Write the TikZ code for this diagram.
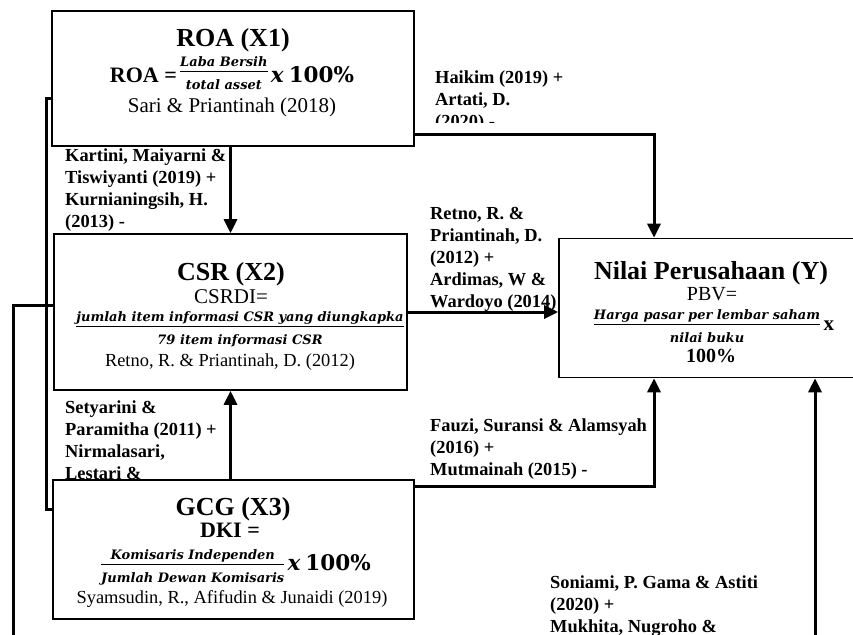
\documentclass[tikz,border=0pt]{standalone}
\usepackage{amsmath}
\usepackage{fontspec}
\setmainfont{Liberation Serif}
\newfontfamily\cambria{DejaVu Serif}
\usetikzlibrary{arrows.meta,positioning,calc}

\newcommand{\fr}{\fontsize{13}{15}\selectfont\cambria\bfseries\itshape}
\newcommand{\frc}[2]{\ensuremath{\vcenter{\offinterlineskip
  \halign{\hfil##\hfil\cr
    \fr\rule[-4.85pt]{0pt}{20.35pt}#1\cr
    \noalign{\hrule height 1.3pt}
    \fr\rule[-3pt]{0pt}{20.35pt}#2\cr}}}}
\newcommand{\ttl}{\fontsize{26}{28}\selectfont\bfseries}
\newcommand{\kali}{{\fontsize{21.5}{24}\selectfont\cambria\bfseries\itshape x} {\fontsize{21.5}{24}\selectfont\cambria\bfseries 100\%}}

\tikzset{
  varbox/.style={draw, line width=1.6pt, fill=white, inner sep=0pt},
  txt/.style={anchor=base, inner sep=0pt, font=\fontsize{18.4}{22}\selectfont},
  arr/.style={line width=3pt, -{Triangle[width=13pt,length=14pt]}},
  conn/.style={line width=3pt},
  refnote/.style={font=\fontsize{18.4}{22}\selectfont\bfseries, align=left,
    anchor=north west, inner sep=0pt}
}

\begin{document}
\begin{tikzpicture}[x=1pt,y=-1pt]
    \useasboundingbox (0,0) rectangle (853,634);

    % labels on the paths
    \node[refnote] (kartini) at (65,149) {Kartini, Maiyarni \&\\Tiswiyanti (2019) +\\Kurnianingsih, H.\\(2013) -};
    \node[refnote] (setyarini) at (65,401) {Setyarini \&\\Paramitha (2011) +\\Nirmalasari,\\Lestari \&};
    \node[refnote] (retno) at (430,207) {Retno, R. \&\\Priantinah, D.\\(2012) +\\Ardimas, W \&\\Wardoyo (2014)};
    \node[refnote] (fauzi) at (430,419) {Fauzi, Suransi \& Alamsyah\\(2016) +\\Mutmainah (2015) -};
    \node[refnote] (soniami) at (550,576) {Soniami, P. Gama \& Astiti\\(2020) +\\Mukhita, Nugroho \&};
    \begin{scope}
      \clip (420,50) rectangle (600,122);
      \node[refnote] (haikim) at (435,71) {Haikim (2019) +\\Artati, D.\\(2020) -};
    \end{scope}

    % Define nodes
    \node[varbox, minimum width=362pt, minimum height=135pt] (roa) at (233,78.5) {};
    \node[varbox, minimum width=353pt, minimum height=156pt] (csr) at (230.5,312) {};
    \node[varbox, minimum width=361pt, minimum height=139pt] (gcg) at (233.5,549.5) {};
    \node[varbox, minimum width=306pt, minimum height=139pt] (nilai) at (712,308) {};

    % texts in the boxes
    \node[txt] (roa-t) at (233,47) {\ttl ROA (X1)};
    \node[txt] (roa-f) at (232,82) {\fontsize{20}{24}\selectfont{\fontsize{22}{26}\selectfont\bfseries ROA =}\,\raisebox{5pt}{\frc{Laba Bersih}{total asset}}\,\kali};
    \node[txt] (roa-s) at (232,112) {\fontsize{21}{24}\selectfont Sari \& Priantinah (2018)};

    \node[txt] (csr-t) at (231,280) {\ttl CSR (X2)};
    \node[txt] (csr-d) at (231,303) {\fontsize{21}{24}\selectfont CSRDI=};
    \node[txt] (csr-f) at (240,332) {\fontsize{20}{24}\selectfont\frc{jumlah item informasi CSR yang diungkapka}{79 item informasi CSR}};
    \node[txt] (csr-s) at (230,366) {Retno, R. \& Priantinah, D. (2012)};

    \node[txt] (gcg-t) at (233,515) {\ttl GCG (X3)};
    \node[txt] (gcg-d) at (230,537) {\fontsize{22}{26}\selectfont\bfseries DKI =};
    \node[txt] (gcg-f) at (236,570) {\fontsize{20}{24}\selectfont\frc{Komisaris Independen}{Jumlah Dewan Komisaris}\,\kali};
    \node[txt] (gcg-s) at (232,603) {Syamsudin, R., Afifudin \& Junaidi (2019)};

    \node[txt] (nilai-t) at (711,279) {\ttl Nilai Perusahaan (Y)};
    \node[txt] (nilai-d) at (712,300) {\fontsize{20}{24}\selectfont PBV=};
    \node[txt] (nilai-f) at (714,330) {\fontsize{20}{24}\selectfont\frc{Harga pasar per lembar saham}{nilai buku}\,{\fontsize{21}{24}\selectfont\bfseries x}};
    \node[txt] (nilai-p) at (711,362) {\fontsize{20}{22}\selectfont\bfseries 100\%};

    % Connect nodes
    \draw[arr] (csr.north |- roa.south) -- (csr.north);
    \draw[arr] (gcg.north -| csr.south) -- (csr.south);
    \draw[arr] (csr.east) -- (csr.east -| nilai.west);
    \draw[arr] ([yshift=12pt]roa.south east) -| ([xshift=-58pt]nilai.north);
    \draw[arr] ([yshift=-7pt]gcg.north east) -| ([xshift=-58pt]nilai.south);
    \draw[conn] ([yshift=-20pt]roa.west) -- ++(-5,0) |- ([yshift=40pt]gcg.west);
    \coordinate (csrend) at (13,640);
    \draw[conn] ([yshift=7pt]csr.west) -| (csrend);
    \coordinate (soniend) at (815,640);
    \draw[arr] (soniend) -- (soniend |- nilai.south);
\end{tikzpicture}
\end{document}
